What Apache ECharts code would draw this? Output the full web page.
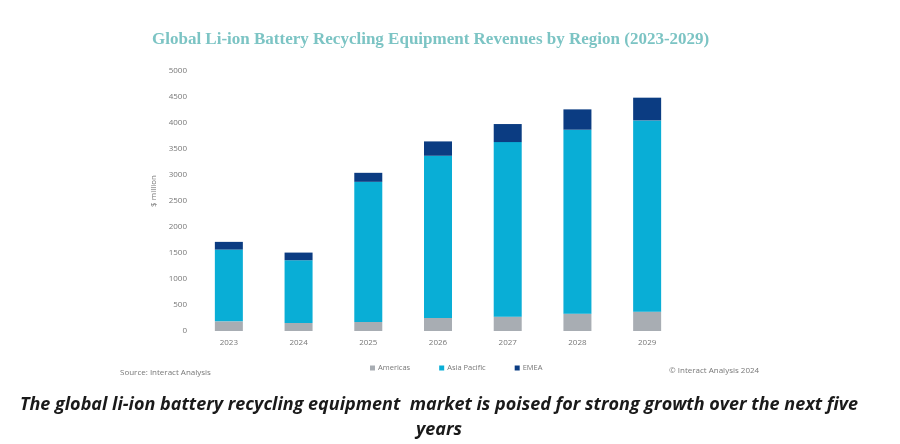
<!DOCTYPE html>
<html>
<head>
<meta charset="utf-8">
<script src="https://cdn.jsdelivr.net/npm/echarts@6/dist/echarts.min.js"></script>
<style>
html,body{margin:0;padding:0;background:#fff;}
#main{width:900px;height:444px;}
</style>
</head>
<body>
<div id="main"></div>
<script>
var years = ['2023','2024','2025','2026','2027','2028','2029'];
var americas = [186,154,173,250,276,334,372];
var asiaPacific = [1380,1207,2696,3120,3357,3537,3678];
var emea = [148,147,173,276,347,391,437];
var yTicks = [0,5000,500];

var chartTitle = 'Global Li-ion Battery Recycling Equipment Revenues by Region (2023-2029)';
var sourceText = 'Source: Interact Analysis';
var copyText = '© Interact Analysis 2024';
var captionText = 'The global li-ion battery recycling equipment  market is poised for strong growth over the next five\nyears';

var myChart = echarts.init(document.getElementById('main'));

function barSeries(name, data, color){
	return {
		name: name,
		type: 'bar',
		stack: 'total',
		barWidth: 28,
		data: data,
		itemStyle: {color: color},
		emphasis: {disabled: true}
	};
}

var option = {
	backgroundColor: '#fff',
	animation: false,
	title: [
		{
			text: chartTitle,
			left: 147, top: 26,
			textStyle: {fontFamily: 'Liberation Serif', fontSize: 17, fontWeight: 'bold', color: '#7cc4c4'}
		},
		{
			text: sourceText,
			left: 115, top: 364,
			textStyle: {fontFamily: 'Open Sans', fontSize: 8, fontWeight: 'normal', color: '#777'}
		},
		{
			text: copyText,
			left: 664, top: 362,
			textStyle: {fontFamily: 'Open Sans', fontSize: 8, fontWeight: 'normal', color: '#777'}
		},
		{
			text: captionText,
			left: 434, top: 387,
			textAlign: 'center',
			textStyle: {fontFamily: 'Open Sans', fontSize: 18, fontWeight: 'bold', fontStyle: 'italic', color: '#1a1a1a', lineHeight: 25, align: 'center'}
		}
	],
	legend: {
		left: 365, top: 359,
		itemWidth: 5, itemHeight: 5, itemGap: 29,
		icon: 'rect',
		textStyle: {fontFamily: 'Open Sans', fontSize: 7.5, color: '#777', padding: [0,0,0,-2]},
		data: ['Americas','Asia Pacific','EMEA']
	},
	grid: {left: 194, right: 218, top: 71, bottom: 113},
	xAxis: {
		type: 'category',
		data: years,
		axisLine: {show: false},
		axisTick: {show: false},
		axisLabel: {fontFamily: 'Open Sans', fontSize: 8, color: '#777', margin: 8}
	},
	yAxis: {
		type: 'value',
		min: yTicks[0], max: yTicks[1], interval: yTicks[2],
		name: '$ million',
		nameLocation: 'middle',
		nameGap: 32,
		nameTextStyle: {fontFamily: 'Open Sans', fontSize: 8, color: '#777', padding: [0,0,0,20]},
		axisLine: {show: false},
		axisTick: {show: false},
		splitLine: {show: false},
		axisLabel: {
			fontFamily: 'Open Sans', fontSize: 8, color: '#777', margin: 7,
			formatter: function(v){ return String(v); }
		}
	},
	series: [
		barSeries('Americas', americas, '#a8adb3'),
		barSeries('Asia Pacific', asiaPacific, '#09aed6'),
		barSeries('EMEA', emea, '#0b3c82')
	]
};
myChart.setOption(option);
</script>
</body>
</html>
